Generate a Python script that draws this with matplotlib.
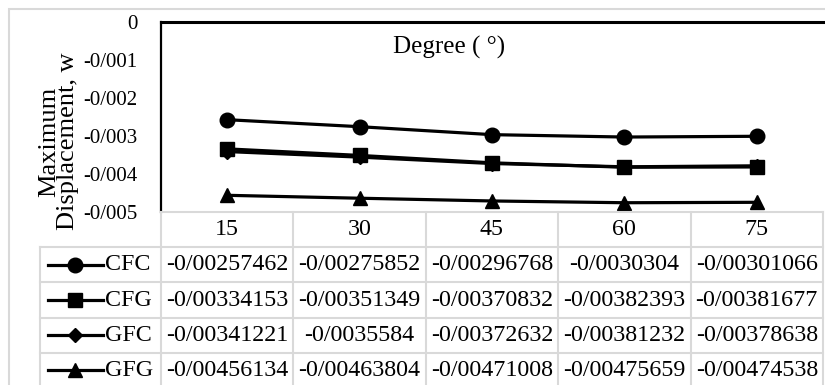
import matplotlib
matplotlib.use("Agg")
import matplotlib.pyplot as plt
from matplotlib.patches import Rectangle

plt.rcParams["font.family"] = ["Liberation Serif", "DejaVu Serif"]

degrees = [15, 30, 45, 60, 75]
series = ["CFC", "CFG", "GFC", "GFG"]
cfc = [-0.00257462, -0.00275852, -0.00296768, -0.0030304, -0.00301066]
cfg = [-0.00334153, -0.00351349, -0.00370832, -0.00382393, -0.00381677]
gfc = [-0.00341221, -0.0035584, -0.00372632, -0.00381232, -0.00378638]
gfg = [-0.00456134, -0.00463804, -0.00471008, -0.00475659, -0.00474538]
y_ticks = [0, -0.001, -0.002, -0.003, -0.004, -0.005]

values = [cfc, cfg, gfc, gfg]
markers = ["o", "s", "D", "^"]
msizes = [10.5, 10, 7.5, 10.5]

W, H = 825, 385
fig = plt.figure(figsize=(W / 100, H / 100), dpi=100)


def box(left, top, right, bottom):
    return [left / W, 1 - bottom / H, (right - left) / W, (bottom - top) / H]


# chart area outline (runs off the right/bottom edges)
fig.patches.append(Rectangle((8.5 / W, -0.1), 1.2, 1 - 8.5 / H + 0.1,
                             transform=fig.transFigure, fill=False,
                             edgecolor="#d9d9d9", linewidth=1.5))

col_w = (823 - 161) / 5
ax = fig.add_axes(box(161, 21.7, 823, 212))
xs = list(range(len(degrees)))
for vals, m, ms in zip(values, markers, msizes):
    ax.plot(xs, vals, color="black", lw=2.3, marker=m, ms=ms)
ax.set_xlim(-0.5, 4.5)
ax.set_ylim(-0.005, 0)
ax.set_yticks(y_ticks)
ax.set_yticklabels([("%g" % v if v == 0 else "%.3f" % v).replace(".", "/")
                    for v in y_ticks], fontsize=15)
ax.set_xticks([])
ax.tick_params(axis="y", length=0, pad=17)
for s in ["right", "bottom"]:
    ax.spines[s].set_visible(False)
ax.spines["top"].set_linewidth(2.2)
ax.spines["left"].set_linewidth(1.6)
ax.set_ylabel("Maximum\nDisplacement, w", fontsize=19, linespacing=0.78)
ax.yaxis.set_label_coords(-0.124, 0.37)
ax.text(0.435, 0.865, "Degree ( °)", transform=ax.transAxes, fontsize=18,
        ha="center", va="center")

# data table below the plot
row_h = 35.2
key_w = (161 - 40) / col_w
tb = fig.add_axes(box(40, 212, 823, 212 + 5 * row_h))
tb.set_xlim(-0.5 - key_w, 4.5)
tb.set_ylim(5, 0)
tb.axis("off")
grid = dict(color="#d9d9d9", lw=1.5, clip_on=False)
x0 = -0.5 - key_w
tb.plot([-0.5, 4.5], [0, 0], **grid)
for r in range(1, 6):
    tb.plot([x0, 4.5], [r, r], **grid)
for c in range(6):
    tb.plot([c - 0.5] * 2, [0, 5], **grid)
tb.plot([x0, x0], [1, 5], **grid)

fs = 17.3
for i, d in enumerate(degrees):
    tb.text(i, 0.5, str(d), fontsize=fs, ha="center", va="center")
for r, (name, vals, m, ms) in enumerate(zip(series, values, markers, msizes), start=1):
    k0 = x0 + 8 / col_w
    k1 = x0 + 63 / col_w
    tb.plot([k0, k1], [r + 0.5] * 2, color="black", lw=2.3)
    tb.plot([(k0 + k1) / 2], [r + 0.5], color="black", marker=m, ms=ms)
    tb.text(x0 + 65 / col_w, r + 0.5, name, fontsize=fs, ha="left", va="center")
    for i, v in enumerate(vals):
        tb.text(i, r + 0.5, repr(v).replace(".", "/"), fontsize=fs,
                ha="center", va="center")

fig.savefig("out.png", dpi=100)
